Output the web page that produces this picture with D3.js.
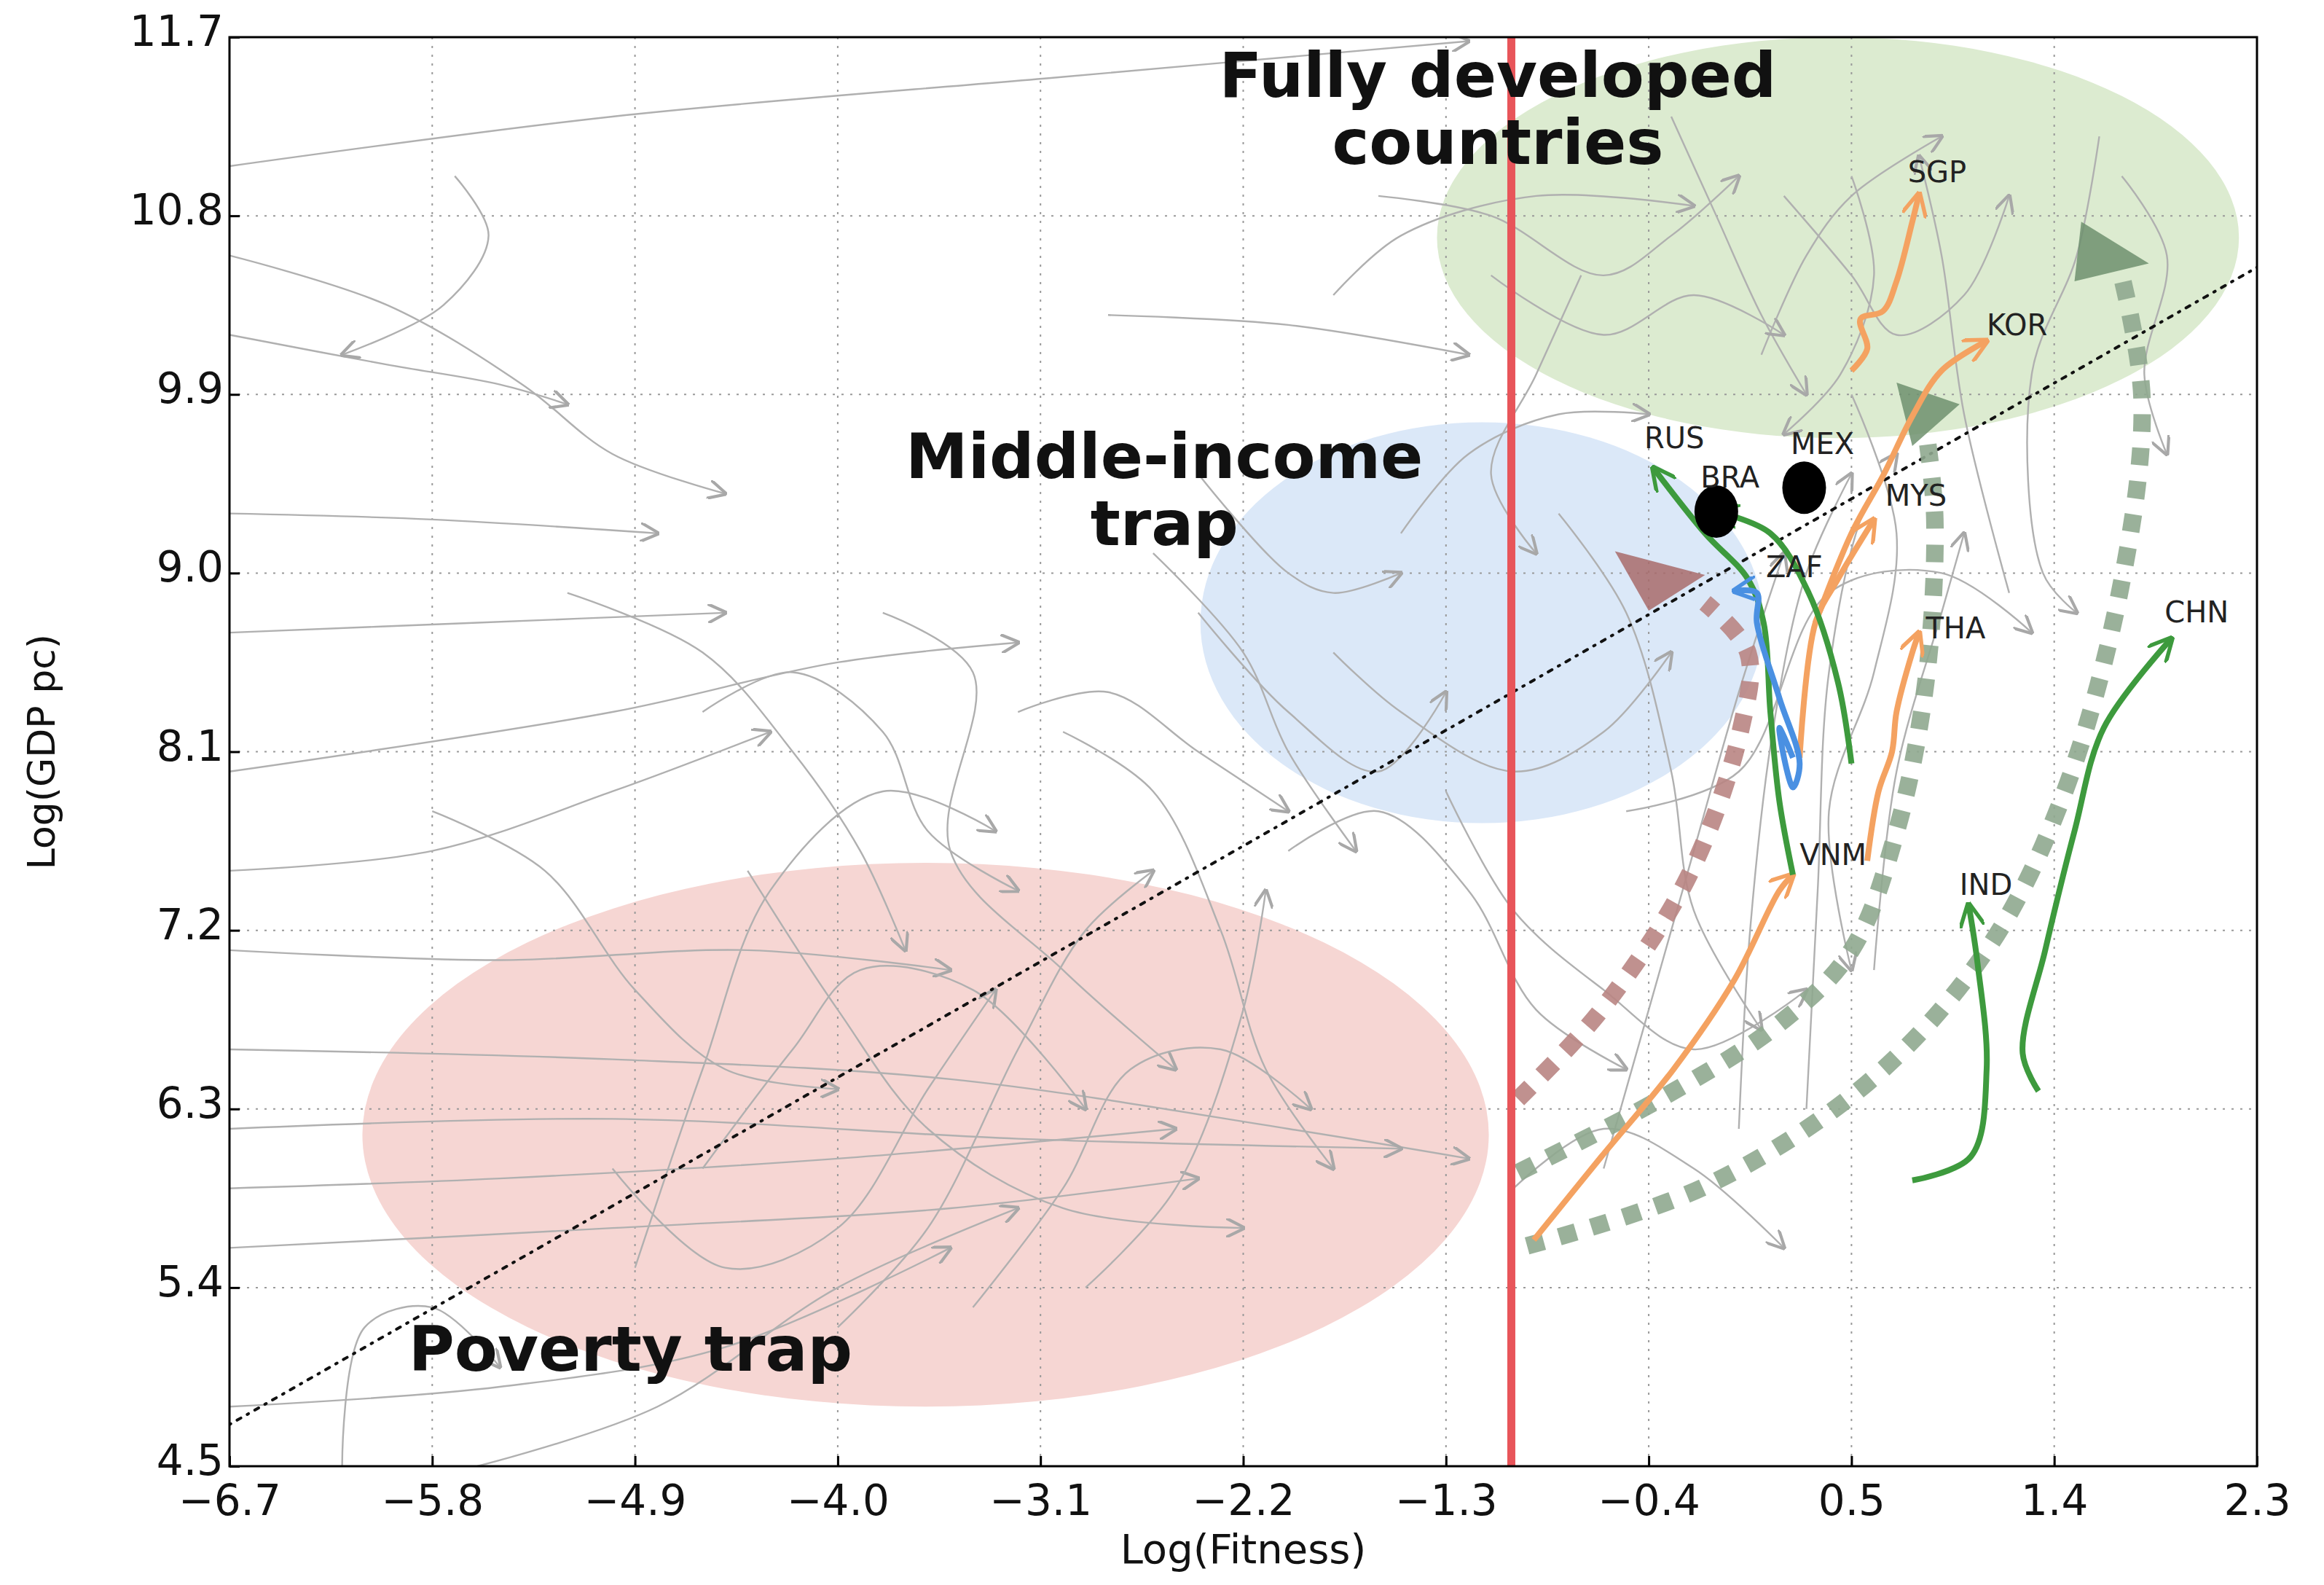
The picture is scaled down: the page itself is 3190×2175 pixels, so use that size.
<!DOCTYPE html>
<html><head><meta charset="utf-8">
<script src="https://cdn.jsdelivr.net/npm/d3@7"></script>
<style>body{margin:0;background:#fff}svg{display:block}</style></head>
<body><svg id="c" width="3190" height="2175"></svg>
<script>
const xTicks=[-6.7,-5.8,-4.9,-4.0,-3.1,-2.2,-1.3,-0.4,0.5,1.4,2.3];
const yTicks=[4.5,5.4,6.3,7.2,8.1,9.0,9.9,10.8,11.7];
const regions=[
 {name:"developed",cx:0.44,cy:10.69,rx:1.78,ry:1.01,color:"#dcebd0"},
 {name:"middle",cx:-1.14,cy:8.75,rx:1.25,ry:1.01,color:"#dbe8f8"},
 {name:"poverty",cx:-3.61,cy:6.17,rx:2.5,ry:1.37,color:"#f6d6d3"}];
const regionLabels=[
 {lines:["Fully developed","countries"],x:-1.07,y:[11.4,11.06]},
 {lines:["Middle-income","trap"],x:-2.55,y:[9.48,9.14]},
 {lines:["Poverty trap"],x:-4.92,y:[4.98]}];
const diag=[[-6.7,4.71],[2.3,10.54]];
const redLineX=-1.01;
const grey=[
[[-6.7,11.05],[-5,11.3],[-3,11.5],[-1.2,11.68]],
[[-6.7,10.6],[-6.0,10.35],[-5.4,9.95],[-5.0,9.6],[-4.5,9.4]],
[[-6.7,10.2],[-6.0,10.05],[-5.5,9.95],[-5.2,9.85]],
[[-5.7,11.0],[-5.55,10.7],[-5.75,10.35],[-6.2,10.1]],
[[-6.7,9.3],[-5.8,9.27],[-4.8,9.2]],
[[-6.7,8.0],[-5.0,8.3],[-4.0,8.55],[-3.2,8.65]],
[[-6.7,7.1],[-5.5,7.05],[-4.4,7.1],[-3.5,7.0]],
[[-6.7,6.6],[-5,6.55],[-3.5,6.45],[-2,6.2],[-1.2,6.05]],
[[-6.7,6.2],[-5,6.25],[-3.2,6.15],[-1.5,6.1]],
[[-6.7,5.9],[-5.5,5.95],[-4,6.05],[-2.5,6.2]],
[[-6.7,5.6],[-5,5.7],[-3.5,5.8],[-2.4,5.95]],
[[-6.7,4.8],[-5.5,4.9],[-4.5,5.1],[-3.5,5.6]],
[[-6.2,4.5],[-6.1,5.2],[-5.8,5.3],[-5.5,5.0]],
[[-5.6,4.5],[-4.8,4.8],[-4.0,5.4],[-3.2,5.8]],
[[-4.9,5.5],[-4.6,6.5],[-4.3,7.4],[-3.8,7.9],[-3.3,7.7]],
[[-3.8,8.8],[-3.4,8.5],[-3.5,7.6],[-3.0,7.0],[-2.5,6.5]],
[[-4.4,7.5],[-4.0,6.8],[-3.6,6.2],[-3.0,5.8],[-2.2,5.7]],
[[-3.0,8.2],[-2.6,7.9],[-2.3,7.2],[-2.1,6.5],[-1.8,6.0]],
[[-2.6,9.1],[-2.2,8.6],[-2.0,8.1],[-1.7,7.6]],
[[-2.8,10.3],[-2.0,10.25],[-1.2,10.1]],
[[-1.6,10.9],[-1.1,10.8],[-0.6,10.5],[-0.3,10.7],[0.0,11.0]],
[[-1.8,10.4],[-1.5,10.7],[-0.9,10.9],[-0.2,10.85]],
[[-1.5,9.2],[-1.2,9.6],[-0.8,9.8],[-0.4,9.8]],
[[-1.8,8.6],[-1.5,8.3],[-1.0,8.0],[-0.6,8.2],[-0.3,8.6]],
[[-2.0,7.6],[-1.6,7.8],[-1.2,7.4],[-0.9,6.8],[-0.5,6.5]],
[[-1.3,7.9],[-1.0,7.3],[-0.6,6.9],[-0.2,6.6],[0.3,6.9]],
[[-0.8,9.3],[-0.5,8.8],[-0.3,8.0],[-0.2,7.3],[0.1,6.7]],
[[0.0,6.2],[0.05,7.2],[0.15,8.2],[0.3,9.0],[0.5,9.5]],
[[0.3,6.3],[0.35,7.4],[0.4,8.5],[0.55,9.3],[0.7,9.6]],
[[0.6,7.0],[0.7,8.0],[0.9,8.8],[1.0,9.2]],
[[1.2,8.9],[1.0,9.8],[0.9,10.6],[0.8,11.1]],
[[1.6,11.2],[1.5,10.6],[1.3,10.0],[1.35,9.0],[1.5,8.8]],
[[0.2,10.9],[0.5,10.5],[0.7,10.2],[1.0,10.4],[1.2,10.9]],
[[1.7,11.0],[1.9,10.6],[1.8,10.0],[1.9,9.6]],
[[-0.3,11.3],[-0.1,10.8],[0.1,10.3],[0.3,9.9]],
[[0.5,11.0],[0.6,10.5],[0.45,10.0],[0.2,9.7]],
[[-0.7,10.5],[-0.9,10.0],[-1.1,9.5],[-0.9,9.1]],
[[-2.4,9.5],[-2.0,9.0],[-1.8,8.9],[-1.5,9.0]],
[[-3.2,8.3],[-2.8,8.4],[-2.4,8.1],[-2.0,7.8]],
[[-5.2,8.9],[-4.6,8.6],[-4.2,8.1],[-3.9,7.6],[-3.7,7.1]],
[[-5.8,7.8],[-5.3,7.5],[-4.9,6.9],[-4.5,6.5],[-4.0,6.4]],
[[-4.0,5.2],[-3.6,5.7],[-3.2,6.6],[-2.9,7.2],[-2.6,7.5]],
[[-2.9,5.4],[-2.5,5.9],[-2.2,6.8],[-2.1,7.4]],
[[-5.0,6.0],[-4.5,5.5],[-4.0,5.7],[-3.6,6.4],[-3.3,6.9]],
[[-1.0,5.9],[-0.6,6.2],[-0.2,6.0],[0.2,5.6]],
[[-0.5,7.8],[0.0,8.0],[0.4,8.9],[0.9,9.0],[1.3,8.7]],
[[0.5,9.9],[0.7,9.2],[0.6,8.5],[0.4,7.8],[0.5,7.0]],
[[-6.7,8.7],[-5.6,8.75],[-4.5,8.8]],
[[-6.7,7.5],[-5.8,7.6],[-5.0,7.9],[-4.3,8.2]],
[[-4.6,8.3],[-4.2,8.5],[-3.8,8.2],[-3.6,7.7],[-3.2,7.4]],
[[-3.4,5.3],[-3.0,5.9],[-2.7,6.5],[-2.3,6.6],[-1.9,6.3]],
[[-4.6,6.0],[-4.2,6.6],[-3.9,7.0],[-3.4,6.9],[-2.9,6.3]],
[[-2.4,8.8],[-2.0,8.3],[-1.6,8.0],[-1.3,8.4]],
[[-0.6,6.0],[-0.4,6.8],[-0.2,7.6],[0.0,8.4],[0.2,9.1]],
[[0.1,10.1],[0.3,10.6],[0.5,10.9],[0.9,11.2]],
[[-1.1,10.5],[-0.6,10.2],[-0.2,10.4],[0.2,10.2]]];
const dashed=[
 {color:"#b98583",pts:[[-0.98,6.35],[-0.61,6.80],[-0.22,7.48],[0.01,8.22],[0.04,8.60],[-0.15,8.85]],tri:[[-0.55,9.11],[-0.15,8.99],[-0.40,8.81]]},
 {color:"#8fa88f",pts:[[-0.98,5.98],[-0.35,6.35],[0.18,6.73],[0.50,7.10],[0.70,7.70],[0.83,8.45],[0.87,9.27],[0.83,9.72]],tri:[[0.70,9.96],[0.98,9.85],[0.77,9.64]]},
 {color:"#8fa88f",pts:[[-0.94,5.61],[-0.15,5.91],[0.57,6.43],[1.10,7.10],[1.43,7.85],[1.69,8.90],[1.79,9.87],[1.69,10.54]],tri:[[1.52,10.77],[1.82,10.56],[1.49,10.47]]}];
const orange="#f4a261", green="#3d9a3d", blue="#4a90e2";
const traj=[
 {c:orange,pts:[[0.50,10.02],[0.57,10.13],[0.54,10.28],[0.64,10.32],[0.70,10.47],[0.77,10.77],[0.80,10.91]]},
 {c:orange,pts:[[0.34,8.75],[0.50,9.20],[0.64,9.49],[0.77,9.79],[0.90,10.02],[1.10,10.17]]},
 {c:orange,pts:[[0.27,8.07],[0.34,8.75],[0.44,8.97],[0.60,9.27]]},
 {c:orange,pts:[[0.57,7.55],[0.62,7.9],[0.68,8.1],[0.70,8.3],[0.77,8.6],[0.80,8.70]]},
 {c:orange,pts:[[-0.91,5.64],[-0.61,6.06],[-0.29,6.50],[-0.02,6.95],[0.18,7.40],[0.24,7.48]]},
 {c:green,pts:[[0.24,7.48],[0.18,7.85],[0.14,8.30],[0.11,8.75],[0.04,8.97],[-0.15,9.20],[-0.38,9.53]]},
 {c:green,pts:[[0.50,8.04],[0.44,8.45],[0.31,8.90],[0.14,9.20],[-0.10,9.31]]},
 {c:green,pts:[[0.77,5.94],[1.03,6.06],[1.10,6.50],[1.06,7.03],[1.02,7.33]]},
 {c:green,pts:[[1.33,6.39],[1.26,6.58],[1.36,7.10],[1.49,7.70],[1.62,8.22],[1.92,8.67]]},
 {c:blue,pts:[[0.24,8.07],[0.18,8.22],[0.24,7.92],[0.27,8.04],[0.18,8.37],[0.08,8.75],[0.08,8.90],[-0.02,8.91]]}];
const dots=[[-0.10,9.31],[0.29,9.43]];
const countries=[["SGP",0.75,10.97],["KOR",1.10,10.2],["MEX",0.23,9.6],["RUS",-0.42,9.63],["BRA",-0.17,9.43],["MYS",0.65,9.34],["ZAF",0.12,8.98],["THA",0.83,8.67],["CHN",1.89,8.75],["VNM",0.27,7.53],["IND",0.98,7.38]];

const svg=d3.select("#c");
const L=315,R=3098,T=51,B=2012;
const x=d3.scaleLinear().domain([-6.7,2.3]).range([L,R]);
const y=d3.scaleLinear().domain([4.5,11.7]).range([B,T]);
svg.append("clipPath").attr("id","clip").append("rect").attr("x",L).attr("y",T).attr("width",R-L).attr("height",B-T);
const g=svg.append("g").attr("clip-path","url(#clip)");
const defs=svg.append("defs");
function marker(id,col,sz){defs.append("marker").attr("id",id).attr("viewBox","0 0 10 10").attr("refX",9).attr("refY",5)
 .attr("markerWidth",sz).attr("markerHeight",sz).attr("markerUnits","userSpaceOnUse").attr("orient","auto")
 .append("path").attr("d","M0,0 L10,5 L0,10").attr("fill","none").attr("stroke",col).attr("stroke-width",1.6);}
marker("ag","#a8a8a8",26);marker("ao",orange,34);marker("agr",green,34);marker("ab",blue,34);
regions.forEach(r=>g.append("ellipse").attr("cx",x(r.cx)).attr("cy",y(r.cy))
 .attr("rx",x(r.cx+r.rx)-x(r.cx)).attr("ry",y(r.cy-r.ry)-y(r.cy)).attr("fill",r.color));
g.selectAll(".gx").data(xTicks).join("line").attr("x1",d=>x(d)).attr("x2",d=>x(d)).attr("y1",T).attr("y2",B)
 .attr("stroke","#999").attr("stroke-width",2).attr("stroke-dasharray","3,9");
g.selectAll(".gy").data(yTicks).join("line").attr("y1",d=>y(d)).attr("y2",d=>y(d)).attr("x1",L).attr("x2",R)
 .attr("stroke","#999").attr("stroke-width",2).attr("stroke-dasharray","3,9");
const line=d3.line().x(d=>x(d[0])).y(d=>y(d[1])).curve(d3.curveCatmullRom);
grey.forEach(p=>g.append("path").attr("d",line(p)).attr("fill","none").attr("stroke","#b0b0b0").attr("stroke-width",2.4).attr("marker-end","url(#ag)"));
regionLabels.forEach(r=>r.lines.forEach((t,i)=>svg.append("text").attr("x",x(r.x)).attr("y",y(r.y[i])).attr("text-anchor","middle")
 .attr("font-family","DejaVu Sans").attr("font-weight","bold").attr("font-size",86).attr("fill","#111").text(t)));
g.append("line").attr("x1",x(diag[0][0])).attr("y1",y(diag[0][1])).attr("x2",x(diag[1][0])).attr("y2",y(diag[1][1]))
 .attr("stroke","#111").attr("stroke-width",4).attr("stroke-dasharray","2,10,6,10").attr("stroke-linecap","round");
dashed.forEach(d=>{g.append("path").attr("d",line(d.pts)).attr("fill","none").attr("stroke",d.color).attr("stroke-width",24).attr("stroke-dasharray","24,22").attr("opacity",0.9);
 g.append("polygon").attr("points",d.tri.map(p=>[x(p[0]),y(p[1])].join(",")).join(" ")).attr("fill",d.color==="#b98583"?"#a86b6b":"#6f916f").attr("opacity",0.85);});
traj.forEach(t=>g.append("path").attr("d",line(t.pts)).attr("fill","none").attr("stroke",t.c).attr("stroke-width",8)
 .attr("marker-end",`url(#${t.c===orange?"ao":t.c===green?"agr":"ab"})`));
g.selectAll(".dot").data(dots).join("ellipse").attr("cx",d=>x(d[0])).attr("cy",d=>y(d[1])).attr("rx",30).attr("ry",36).attr("fill","#000");
g.append("line").attr("x1",x(redLineX)).attr("x2",x(redLineX)).attr("y1",T).attr("y2",B).attr("stroke","#e8555a").attr("stroke-width",11);
svg.selectAll(".cl").data(countries).join("text").attr("x",d=>x(d[1])).attr("y",d=>y(d[2])).attr("font-family","DejaVu Sans")
 .attr("font-size",40).attr("fill","#222").text(d=>d[0]);
svg.append("rect").attr("x",L).attr("y",T).attr("width",R-L).attr("height",B-T).attr("fill","none").attr("stroke","#000").attr("stroke-width",3);
const fmt=d=>d<0?"\u2212"+Math.abs(d).toFixed(1):d.toFixed(1);
svg.append("g").attr("transform",`translate(0,${B})`).call(d3.axisBottom(x).tickValues(xTicks).tickFormat(fmt).tickSize(-14).tickPadding(26))
 .call(a=>{a.select(".domain").remove();a.selectAll("text").attr("font-size",58).attr("font-family","DejaVu Sans").attr("fill","#111");a.selectAll("line").attr("stroke-width",3);});
svg.append("g").attr("transform",`translate(${L},0)`).call(d3.axisLeft(y).tickValues(yTicks).tickFormat(fmt).tickSize(-14).tickPadding(8))
 .call(a=>{a.select(".domain").remove();a.selectAll("text").attr("font-size",58).attr("font-family","DejaVu Sans").attr("fill","#111").attr("dy","0.2em");a.selectAll("line").attr("stroke-width",3);});
svg.append("text").attr("x",(L+R)/2).attr("y",2145).attr("text-anchor","middle").attr("font-family","DejaVu Sans").attr("font-size",56).attr("fill","#111").text("Log(Fitness)");
svg.append("text").attr("transform",`translate(75,${(T+B)/2}) rotate(-90)`).attr("text-anchor","middle").attr("font-family","DejaVu Sans").attr("font-size",52).attr("fill","#111").text("Log(GDP pc)");
</script></body></html>
